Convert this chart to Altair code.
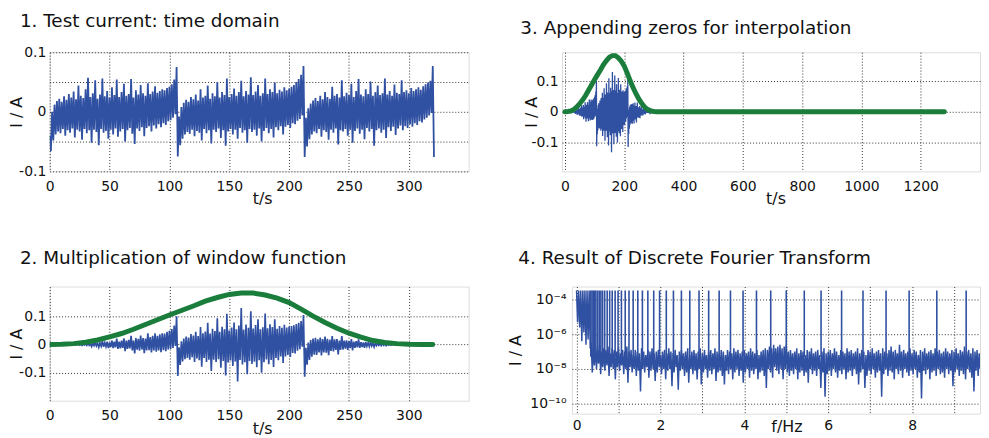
import altair as alt
import pandas as pd

# ---------------- data ----------------
# Panel 1: test current, sampled every 2 s; upper / lower excursion of the noisy trace (mA)
t_s = list(range(0, 322, 2))
hi1_mA = [-40, 0, 12, 18, 22, 17, 26, 20, 30, 24,
          34, 21, 44, 27, 23, 38, 57, 25, 31, 53,
          22, 29, 56, 26, 35, 24, 41, 28, 54, 25,
          33, 47, 27, 30, 55, 24, 36, 29, 45, 31,
          27, 48, 30, 34, 43, 32, 35, 38, 36, 40,
          42, 46, 54, 75,
          -8, 8, 15, 20, 17, 25, 21, 29, 19, 38,
          24, 27, 44, 22, 31, 26, 50, 24, 33, 28,
          56, 25, 30, 39, 27, 33, 52, 26, 35, 29,
          58, 28, 34, 45, 27, 31, 56, 30, 38, 33,
          49, 31, 37, 34, 41, 36, 39, 42, 45, 50,
          55, 62, 77,
          -10, 6, 14, 19, 23, 18, 27, 21, 33, 25,
          22, 42, 27, 30, 24, 53, 26, 32, 28, 47,
          25, 35, 55, 29, 26, 38, 30, 51, 27, 33,
          44, 28, 31, 56, 29, 35, 27, 46, 32, 30,
          53, 33, 36, 31, 40, 35, 38, 41, 37, 43,
          46, 49, 52, 77]
lo1_mA = [-66, -48, -38, -33, -36, -29, -40, -31, -35, -28,
          -43, -30, -33, -47, -29, -36, -31, -52, -30, -34,
          -56, -29, -35, -32, -45, -30, -38, -28, -42, -33,
          -29, -50, -31, -27, -37, -54, -28, -32, -26, -41,
          -27, -24, -33, -23, -28, -21, -26, -19, -22, -16,
          -14, -10, -4, -75,
          -56, -45, -38, -34, -37, -30, -41, -32, -35, -48,
          -29, -36, -31, -53, -30, -34, -28, -44, -31, -57,
          -33, -29, -38, -30, -45, -27, -35, -31, -52, -29,
          -34, -30, -40, -28, -50, -32, -27, -36, -29, -43,
          -26, -31, -24, -38, -25, -22, -27, -19, -21, -15,
          -12, -6, -76,
          -58, -46, -38, -33, -36, -29, -42, -31, -34, -47,
          -30, -35, -28, -55, -31, -33, -29, -40, -30, -52,
          -32, -28, -37, -30, -46, -27, -33, -29, -57, -31,
          -28, -35, -30, -44, -26, -32, -25, -39, -28, -23,
          -31, -24, -27, -21, -25, -19, -22, -16, -18, -13,
          -10, -6, -2, -76]

# Panel 2/3: windowed current (mA), same sampling
hi2_mA = [0, 0, 0, 0, 0, 0, 0, 0, 1, 1,
          1, 1, 2, 2, 2, 3, 6, 3, 4, 8,
          4, 6, 13, 7, 10, 7, 14, 10, 21, 10,
          14, 22, 14, 16, 31, 14, 23, 20, 32, 23,
          21, 40, 26, 31, 40, 31, 36, 40, 39, 45,
          49, 55, 67, 100,
          -10, 11, 21, 28, 25, 37, 32, 45, 30, 62,
          40, 46, 77, 39, 56, 48, 93, 45, 63, 54,
          109, 50, 60, 78, 54, 67, 130, 53, 71, 59,
          118, 57, 69, 90, 54, 61, 110, 58, 72, 62,
          90, 56, 66, 59, 70, 60, 64, 66, 68, 73,
          77, 83, 105,
          -12, 7, 16, 21, 24, 18, 25, 19, 28, 20,
          17, 30, 18, 19, 14, 30, 14, 15, 12, 19,
          10, 12, 18, 8, 7, 9, 6, 9, 4, 5,
          5, 3, 3, 4, 2, 2, 1, 2, 1, 1,
          1, 1, 0, 0, 0, 0, 0, 0, 0, 0,
          0, 0, 0, 0]
lo2_mA = [0, 0, 0, 0, 0, 0, -1, -1, -1, -1,
          -1, -1, -2, -3, -2, -3, -3, -7, -4, -5,
          -10, -6, -8, -8, -13, -9, -13, -10, -16, -14,
          -12, -24, -16, -14, -21, -32, -18, -22, -18, -31,
          -21, -20, -28, -21, -26, -21, -27, -20, -24, -18,
          -16, -12, -5, -112,
          -73, -60, -52, -48, -54, -45, -62, -50, -56, -79,
          -48, -62, -54, -94, -54, -62, -52, -83, -59, -110,
          -64, -57, -76, -60, -132, -55, -71, -63, -106, -59,
          -69, -61, -81, -56, -100, -63, -53, -70, -55, -80,
          -48, -56, -43, -66, -43, -37, -44, -30, -32, -22,
          -17, -8, -115,
          -72, -55, -43, -36, -37, -28, -39, -28, -29, -38,
          -23, -25, -19, -35, -19, -18, -15, -19, -13, -21,
          -12, -10, -12, -9, -12, -6, -7, -5, -9, -4,
          -3, -4, -3, -4, -2, -2, -1, -2, -1, -1,
          -1, 0, 0, 0, 0, 0, 0, 0, 0, 0,
          0, 0, 0, 0]

# Window function (A scale of the plots)
win_t = [0, 10, 20, 30, 40, 50, 60, 70, 80, 90, 100, 110, 120, 130, 140, 150, 160,
         170, 180, 190, 200, 210, 220, 230, 240, 250, 260, 270, 280, 290, 300, 310, 320]
win_v = [0.000, 0.001, 0.003, 0.008, 0.016, 0.027, 0.039, 0.054, 0.071, 0.088, 0.105,
         0.121, 0.137, 0.154, 0.167, 0.178, 0.183, 0.183, 0.176, 0.165, 0.149, 0.126,
         0.101, 0.078, 0.058, 0.040, 0.026, 0.014, 0.007, 0.003, 0.001, 0.000, 0.000]
# appended zeros (panel 3)
pad_t = [1280]
pad_v = [0.0]

# Panel 4: spectrum, every 0.05 Hz; log10 of upper / lower excursion
f_hz = [round(0.05 * i, 2) for i in range(194)]
hi4_log = [-3.47, -3.47, -3.47, -3.47, -3.47, -3.47, -3.47, -6.6, -6.8, -6.7,
           -6.9, -6.6, -7.0, -6.8, -6.9, -6.7, -7.1, -6.8, -6.9, -7.0,
           -6.8, -7.1, -6.9, -7.0, -6.7, -7.0, -6.9, -7.2, -6.9, -7.0,
           -7.1, -6.8, -7.0, -7.2, -6.9, -7.0, -6.8, -7.1, -7.0, -6.9,
           -7.2, -7.0, -6.9, -7.1, -6.8, -7.0, -7.1, -6.9, -7.2, -7.0,
           -6.9, -7.1, -7.0, -6.8, -7.2, -7.0, -6.9, -7.1, -7.0, -6.8,
           -7.1, -6.9, -7.2, -7.0, -6.9, -7.1, -6.8, -7.0, -7.1, -6.9,
           -7.0, -7.2, -6.9, -7.0, -7.1, -6.8, -7.0, -6.9, -7.1, -7.0,
           -6.9, -7.1, -7.0, -6.8, -7.0, -7.1, -6.9, -7.2, -7.0, -6.9,
           -6.8, -6.9, -6.7, -6.8, -6.6, -6.8, -6.7, -6.6, -6.8, -6.7,
           -6.6, -7.0, -6.9, -7.1, -7.0, -6.8, -7.1, -6.9, -7.0, -7.2,
           -6.9, -7.0, -6.8, -7.1, -7.0, -6.9, -7.2, -7.0, -6.8, -7.1,
           -7.0, -6.9, -7.1, -6.8, -7.0, -7.2, -6.9, -7.0, -7.1, -6.8,
           -7.0, -6.9, -7.1, -7.0, -6.8, -7.1, -6.9, -7.0, -7.2, -6.9,
           -7.0, -6.8, -7.1, -7.0, -6.9, -7.1, -6.8, -7.0, -7.1, -6.9,
           -6.7, -7.0, -6.9, -7.1, -6.6, -7.0, -6.9, -7.1, -7.0, -6.8,
           -7.1, -6.9, -7.0, -7.2, -6.9, -7.0, -6.8, -7.1, -7.0, -6.9,
           -7.1, -6.8, -7.0, -6.9, -7.1, -7.0, -6.8, -7.0, -7.1, -6.9,
           -7.0, -6.8, -7.1, -6.9, -7.0, -6.7, -7.0, -6.9, -7.1, -6.8,
           -7.0, -6.9, -7.1, -6.9]
lo4_log = [-5.3, -5.6, -6.4, -5.9, -6.6, -6.3, -6.7, -8.2, -7.8, -8.0,
           -7.7, -8.3, -7.9, -8.1, -7.8, -8.4, -7.9, -8.0, -8.6, -7.9,
           -8.1, -7.8, -8.3, -8.0, -8.8, -7.9, -8.2, -8.0, -8.4, -8.1,
           -9.3, -8.0, -8.2, -7.9, -8.5, -8.1, -8.0, -8.7, -8.2, -7.9,
           -8.3, -8.0, -8.6, -8.1, -8.0, -9.0, -8.2, -7.9, -9.2, -8.1,
           -8.0, -8.4, -8.2, -8.8, -8.0, -8.3, -8.1, -8.6, -8.0, -8.9,
           -8.2, -8.0, -8.5, -8.1, -8.3, -8.0, -8.7, -8.2, -8.1, -8.4,
           -8.9, -8.1, -8.3, -8.0, -8.6, -8.2, -8.0, -8.4, -8.1, -8.8,
           -8.2, -8.0, -8.5, -8.1, -8.3, -8.0, -8.6, -8.2, -8.1, -8.4,
           -9.1, -8.0, -8.2, -8.5, -7.9, -8.1, -8.3, -8.0, -8.6, -8.0,
           -8.2, -8.4, -8.1, -8.3, -8.0, -8.6, -8.2, -8.1, -8.4, -8.2,
           -8.8, -8.0, -8.3, -8.1, -8.4, -8.0, -9.1, -8.2, -9.6, -8.3,
           -8.1, -8.4, -8.0, -8.2, -8.5, -8.1, -8.3, -8.0, -8.6, -8.2,
           -8.1, -8.4, -8.0, -8.3, -8.9, -8.2, -8.0, -9.1, -8.4, -8.1,
           -8.3, -8.0, -8.5, -8.2, -8.1, -9.6, -8.3, -8.0, -8.4, -8.1,
           -8.2, -8.6, -8.0, -8.3, -8.1, -8.5, -8.0, -8.2, -8.4, -8.1,
           -8.3, -8.0, -8.5, -8.2, -9.7, -8.1, -8.3, -8.0, -8.6, -8.2,
           -8.1, -8.4, -8.0, -8.3, -8.2, -8.5, -8.0, -8.3, -8.1, -9.0,
           -8.2, -8.0, -8.4, -8.1, -8.3, -8.6, -8.0, -8.2, -8.5, -9.3,
           -8.1, -8.4, -8.0, -8.3]
# excitation lines of the multisine (Hz), reaching the top of the plot
spike_hz = [0.34, 0.37, 0.40, 0.43, 0.46, 0.50, 0.54, 0.58, 0.62, 0.67, 0.73, 0.79,
            0.85, 0.92, 0.99, 1.07, 1.16, 1.25, 1.35, 1.46, 1.57, 1.70, 1.84, 1.98,
            2.14, 2.31, 2.50, 2.70, 2.92, 3.15, 3.40, 3.67, 3.97, 4.29, 4.63, 5.00,
            5.43, 5.83, 6.32, 6.83, 7.38, 7.93, 8.59, 9.29]
spike_base_log = -7.3
spike_top_log = -3.47

# ---------------- tables ----------------
def zigzag(ts, hi, lo, half, conv):
    rows = []
    k = 0
    for t, h, l in zip(ts, hi, lo):
        rows.append({"x": t, "v": conv(h), "o": k}); k += 1
        rows.append({"x": t + half, "v": conv(l), "o": k}); k += 1
    return pd.DataFrame(rows)

df1 = zigzag(t_s, hi1_mA, lo1_mA, 1, lambda m: m / 1000.0)
df2 = zigzag(t_s, hi2_mA, lo2_mA, 1, lambda m: m / 1000.0)
dfw = pd.DataFrame({"x": win_t, "v": win_v})
dfw3 = pd.DataFrame({"x": win_t + pad_t, "v": win_v + pad_v})
df4 = zigzag(f_hz, hi4_log, lo4_log, 0.025, lambda e: 10 ** e)
dfs = pd.DataFrame({"x": spike_hz,
                    "y": [10 ** spike_base_log] * len(spike_hz),
                    "y2": [10 ** spike_top_log] * len(spike_hz)})

# ---------------- styling ----------------
FONT = "DejaVu Sans"
BLUE = "#3050a2"
GREEN = "#1a7d3b"
TXT = "#111111"

def axis(values, label_expr=None, title=None, title_x=None, title_y=None,
         label_padding=6, fmt=None):
    kw = dict(values=values, grid=True, gridColor="#333", gridDash=[1, 2],
              gridWidth=1, ticks=False, domain=False, labelFont=FONT,
              labelFontSize=14, labelColor=TXT, labelPadding=label_padding,
              labelFlush=False, labelOverlap=False, titleFont=FONT,
              titleFontSize=16, titleFontWeight="normal", titleColor=TXT)
    if label_expr is not None:
        kw["labelExpr"] = label_expr
    if fmt is not None:
        kw["format"] = fmt
    kw["title"] = title if title is not None else ""
    if title_x is not None:
        kw["titleX"] = title_x
    if title_y is not None:
        kw["titleY"] = title_y
        kw["titleBaseline"] = "alphabetic"
    return alt.Axis(**kw)

def ttl(text, dx, offset):
    return alt.TitleParams(text=text, anchor="start", frame="group", dx=dx,
                           offset=offset, font=FONT, fontSize=18.5,
                           fontWeight="normal", color=TXT)

ylab = ("datum.value == 0 ? '0' : (datum.value > 0.09 ? '0.1' : "
        "(datum.value < -0.09 ? '-0.1' : ''))")

# Panel 1
x1 = alt.X("x:Q", scale=alt.Scale(domain=[0, 350], nice=False, zero=False),
           axis=axis([0, 50, 100, 150, 200, 250, 300], title="t/s",
                     title_x=214, title_y=32, label_padding=8))
y1 = alt.Y("v:Q", scale=alt.Scale(domain=[-0.1, 0.1], nice=False),
           axis=axis([-0.1, -0.05, 0, 0.05, 0.1], label_expr=ylab,
                     title="I / A", title_x=-25, label_padding=4))
p1 = alt.Chart(df1).mark_line(color=BLUE, strokeWidth=1.8, clip=True).encode(
    x=x1, y=y1, order="o:Q"
).properties(width=422, height=120,
             title=ttl("1. Test current: time domain", -30, 15))

# Panel 2
x2 = alt.X("x:Q", scale=alt.Scale(domain=[0, 350], nice=False, zero=False),
           axis=axis([0, 50, 100, 150, 200, 250, 300], title="t/s",
                     title_x=214, title_y=33, label_padding=8))
y2 = alt.Y("v:Q", scale=alt.Scale(domain=[-0.2, 0.206], nice=False),
           axis=axis([-0.1, 0, 0.1], label_expr=ylab, title="I / A",
                     title_x=-25, label_padding=4))
b2 = alt.Chart(df2).mark_line(color=BLUE, strokeWidth=1.7, clip=True).encode(
    x=x2, y=y2, order="o:Q")
g2 = alt.Chart(dfw).mark_line(color=GREEN, strokeWidth=5, strokeCap="round",
                              clip=True).encode(x=x2, y=y2)
p2 = alt.layer(b2, g2).properties(
    width=422, height=115,
    title=ttl("2. Multiplication of window function", -30, 19))

# Panel 3
x3 = alt.X("x:Q", scale=alt.Scale(domain=[-10, 1400], nice=False, zero=False),
           axis=axis([0, 200, 400, 600, 800, 1000, 1200], title="t/s",
                     title_x=215, title_y=32, label_padding=8, fmt="d"))
y3 = alt.Y("v:Q", scale=alt.Scale(domain=[-0.194, 0.194], nice=False),
           axis=axis([-0.1, 0, 0.1], label_expr=ylab, title="I / A",
                     title_x=-23, label_padding=4))
b3 = alt.Chart(df2).mark_line(color=BLUE, strokeWidth=1.3, clip=True).encode(
    x=x3, y=y3, order="o:Q")
g3 = alt.Chart(dfw3).mark_line(color=GREEN, strokeWidth=5, strokeCap="round",
                               clip=True).encode(x=x3, y=y3)
p3 = alt.layer(b3, g3).properties(
    width=421, height=120,
    title=ttl("3. Appending zeros for interpolation", -42, 15))

# Panel 4
loglab = ("datum.value < 1e-9 ? '10\u207b\u00b9\u2070' : (datum.value < 1e-7 ? "
          "'10\u207b\u2078' : (datum.value < 1e-5 ? '10\u207b\u2076' : "
          "'10\u207b\u2074'))")
ysc4 = alt.Scale(type="log", domain=[2.63e-11, 5.75e-4], nice=False)
x4 = alt.X("x:Q", scale=alt.Scale(domain=[-0.11, 9.62], nice=False, zero=False),
           axis=axis([0, 1, 2, 3, 4, 5, 6, 7, 8, 9],
                     label_expr="datum.value % 2 == 0 ? datum.label : ''",
                     title="f/Hz", title_x=216, title_y=18, label_padding=5))
y4 = alt.Y("v:Q", scale=ysc4,
           axis=axis([1e-10, 1e-8, 1e-6, 1e-4], label_expr=loglab,
                     title="I / A", title_x=-49, label_padding=6))
b4 = alt.Chart(df4).mark_line(color=BLUE, strokeWidth=1.5, clip=True).encode(
    x=x4, y=y4, order="o:Q")
s4 = alt.Chart(dfs).mark_rule(color=BLUE, strokeWidth=1.6, clip=True).encode(
    x=x4, y=alt.Y("y:Q", scale=ysc4), y2="y2:Q")
p4 = alt.layer(b4, s4).properties(
    width=411, height=128,
    title=ttl("4. Result of Discrete Fourier Transform", -54, 19))

row1 = alt.hconcat(p1, p3, spacing=50)
row2 = alt.hconcat(p2, p4, spacing=37)
chart = alt.vconcat(row1, row2, spacing=42).properties(
    padding={"left": 0, "top": 2, "right": 0, "bottom": 0}
).configure_view(stroke="black", strokeWidth=1.3).configure(background="white")

chart.save("out.html", embed_options={"renderer": "svg", "actions": False})
